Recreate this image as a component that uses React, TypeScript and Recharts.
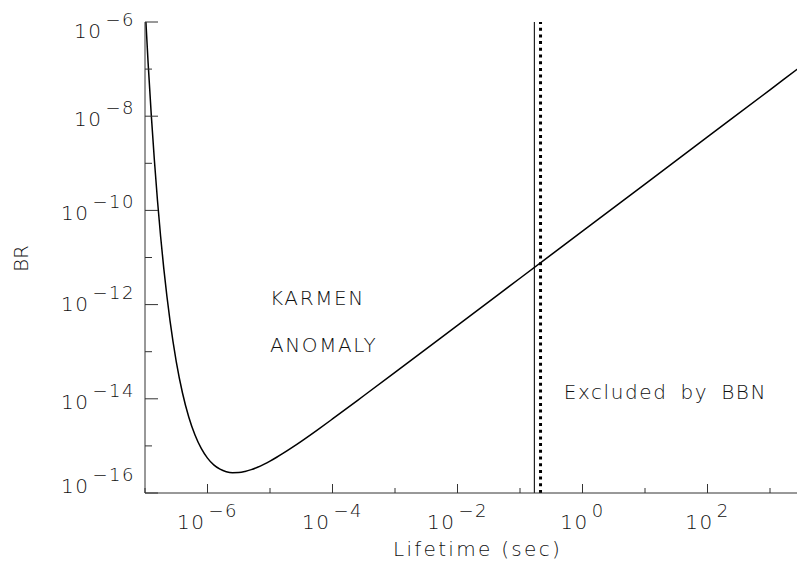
import React from 'react';
import {
  LineChart,
  Line,
  XAxis,
  YAxis,
  ReferenceLine,
  ReferenceDot,
} from 'recharts';

// lifetime (sec) and branching ratio
const lifetimes = [
  1e-7, 1.122e-7, 1.259e-7, 1.413e-7, 1.585e-7, 1.778e-7, 1.995e-7, 2.239e-7, 2.512e-7,
  3.162e-7, 3.981e-7, 5.012e-7, 6.31e-7, 7.943e-7, 1e-6, 1.259e-6, 1.585e-6, 1.995e-6,
  2.512e-6, 3.162e-6, 3.981e-6, 5.012e-6, 6.31e-6, 7.943e-6, 1e-5, 1.259e-5, 1.585e-5,
  2.239e-5, 3.162e-5, 5.623e-5, 1e-4, 3.162e-4, 1e-3, 1e-2, 1e-1, 1, 10, 100, 1000, 3981, 5012,
];
const brs = [
  2.29e-6, 1.34e-7, 1.08e-8, 1.16e-9, 1.6e-10, 2.79e-11, 5.94e-12, 1.52e-12, 4.55e-13,
  6.19e-14, 1.33e-14, 4.11e-15, 1.7e-15, 8.83e-16, 5.5e-16, 3.95e-16, 3.2e-16, 2.83e-16,
  2.69e-16, 2.71e-16, 2.86e-16, 3.13e-16, 3.52e-16, 4.06e-16, 4.76e-16, 5.67e-16, 6.83e-16,
  9.18e-16, 1.25e-15, 2.14e-15, 3.73e-15, 1.16e-14, 3.64e-14, 3.63e-13, 3.63e-12, 3.63e-11,
  3.63e-10, 3.63e-9, 3.63e-8, 1.45e-7, 1.82e-7,
];

const xTicks = [1e-7, 1e-6, 1e-5, 1e-4, 1e-3, 1e-2, 1e-1, 1, 10, 100, 1000];
const yTicks = [1e-16, 1e-15, 1e-14, 1e-13, 1e-12, 1e-11, 1e-10, 1e-9, 1e-8, 1e-7, 1e-6];

// BBN limits: solid and dotted vertical lines
const bbnSolid = 0.17;
const bbnDotted = 0.213;

const notes = [
  { text: 'KARMEN', lifetime: 1e-5, br: 1e-12 },
  { text: 'ANOMALY', lifetime: 1e-5, br: 1e-13 },
  { text: 'Excluded by BBN', lifetime: 0.5, br: 1e-14 },
];

const data = lifetimes.map((lifetime, i) => ({ lifetime, br: brs[i] }));

const FONT = '"DejaVu Sans", sans-serif';
const INK = '#111';
const AXIS = '#333';
const W = 200;

const exp10 = (v: number) => Math.round(Math.log10(v));

// label baseline offset per y tick (reference labels drift a little)
const yShift: Record<number, number> = { [-6]: 16, [-8]: 10, [-10]: 10, [-12]: 6, [-14]: 10, [-16]: 0 };

const Power = ({ x, y, e, anchor }: { x: number; y: number; e: number; anchor: 'end' | 'middle' }) => (
  <text x={x} y={y} textAnchor={anchor} fill={INK} fontFamily={FONT} fontWeight={W} letterSpacing={1.5}>
    <tspan fontSize={20}>10</tspan>
    <tspan fontSize={18} dy={-12} dx={3}>{(e < 0 ? '\u2212' : '') + Math.abs(e)}</tspan>
  </text>
);

const BottomTick = (props: any) => {
  const { x, y, payload } = props;
  const e = exp10(payload.value);
  const major = e % 2 === 0;
  return (
    <g>
      <line x1={x} x2={x} y1={y} y2={y - (major ? 9 : 5)} stroke={AXIS} />
      {major && <Power x={x} y={y + 36} e={e} anchor="middle" />}
    </g>
  );
};

const TopTick = (props: any) => {
  const { x, y, payload } = props;
  const major = exp10(payload.value) % 2 === 0;
  return <line x1={x} x2={x} y1={y} y2={y + (major ? 9 : 5)} stroke={AXIS} />;
};

const LeftTick = (props: any) => {
  const { x, y, payload } = props;
  const e = exp10(payload.value);
  const major = e % 2 === 0;
  return (
    <g>
      <line x1={x} x2={x + (major ? 13 : 7)} y1={y} y2={y} stroke={AXIS} />
      {major && <Power x={x - 10} y={y + (yShift[e] ?? 9)} e={e} anchor="end" />}
    </g>
  );
};

const RightTick = (props: any) => {
  const { x, y, payload } = props;
  const major = exp10(payload.value) % 2 === 0;
  return <line x1={x} x2={x - (major ? 13 : 7)} y1={y} y2={y} stroke={AXIS} />;
};

const noteShape = (text: string) => (props: any) => (
  <text
    x={props.cx}
    y={props.cy}
    fill={INK}
    fontFamily={FONT}
    fontWeight={W}
    fontSize={20}
    letterSpacing={1.6}
    wordSpacing={5}
  >
    {text}
  </text>
);

export default function App() {
  return (
    <div style={{ position: 'relative', width: 797, height: 555, overflow: 'hidden', background: '#fff' }}>
      <LineChart
        width={830}
        height={555}
        data={data}
        margin={{ top: 14, right: 25.5, bottom: 0, left: 0 }}
      >
        <XAxis
          dataKey="lifetime"
          type="number"
          scale="log"
          domain={[1e-7, 4786]}
          allowDataOverflow
          ticks={xTicks}
          interval={0}
          tickSize={0}
          tickMargin={0}
          height={70}
          stroke={AXIS}
          tick={<BottomTick />}
        />
        <XAxis
          xAxisId="top"
          orientation="top"
          dataKey="lifetime"
          type="number"
          scale="log"
          domain={[1e-7, 4786]}
          allowDataOverflow
          ticks={xTicks}
          interval={0}
          tickSize={0}
          tickMargin={0}
          height={0}
          stroke={AXIS}
          tick={<TopTick />}
        />
        <YAxis
          type="number"
          scale="log"
          domain={[1e-16, 1e-6]}
          allowDataOverflow
          ticks={yTicks}
          interval={0}
          tickSize={0}
          tickMargin={0}
          width={137}
          stroke={AXIS}
          tick={<LeftTick />}
        />
        <YAxis
          yAxisId="right"
          orientation="right"
          type="number"
          scale="log"
          domain={[1e-16, 1e-6]}
          allowDataOverflow
          ticks={yTicks}
          interval={0}
          tickSize={0}
          tickMargin={0}
          width={0}
          stroke={AXIS}
          tick={<RightTick />}
        />
        <ReferenceLine x={bbnSolid} stroke="#222" strokeWidth={1.2} />
        <ReferenceLine x={bbnDotted} stroke="#000" strokeWidth={3} strokeDasharray="3 3.7" />
        {notes.map((n) => (
          <ReferenceDot
            key={n.text}
            x={n.lifetime}
            y={n.br}
            r={0}
            shape={noteShape(n.text)}
          />
        ))}
        <Line
          type="monotone"
          dataKey="br"
          stroke="#000"
          strokeWidth={1.5}
          dot={false}
          isAnimationActive={false}
        />
      </LineChart>
      <svg
        width={797}
        height={555}
        style={{ position: 'absolute', left: 0, top: 0, pointerEvents: 'none' }}
      >
        <text
          x={12.5}
          y={250.5}
          transform="rotate(-90 12.5 250.5)"
          textAnchor="middle"
          dy="0.36em"
          fill={INK}
          fontFamily={FONT}
          fontWeight={W}
          fontSize={20}
        >
          BR
        </text>
        <text
          x={469.5}
          y={548}
          textAnchor="middle"
          fill={INK}
          fontFamily={FONT}
          fontWeight={W}
          fontSize={20}
          letterSpacing={2.3}
        >
          Lifetime (sec)
        </text>
      </svg>
    </div>
  );
}
